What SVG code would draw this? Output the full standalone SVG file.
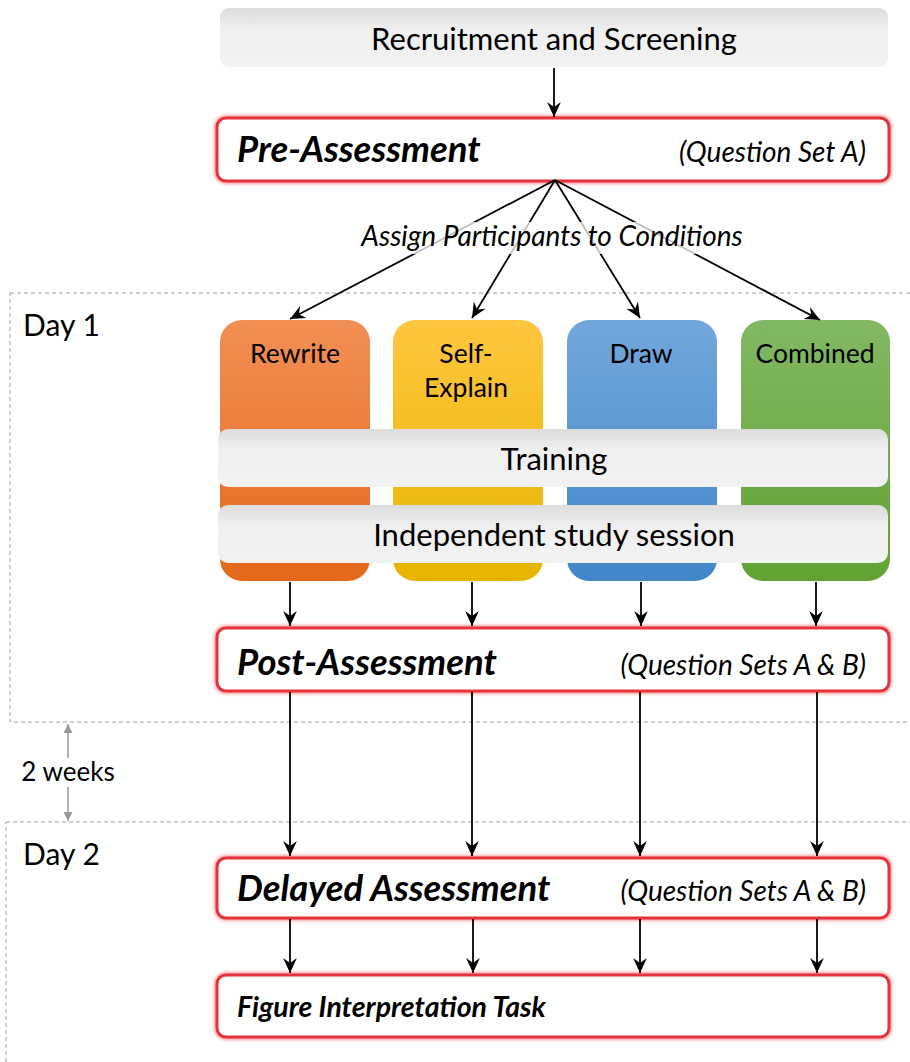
<svg xmlns="http://www.w3.org/2000/svg" width="910" height="1062" viewBox="0 0 910 1062">
<defs>
<linearGradient id="gGray" x1="0" y1="0" x2="0" y2="1"><stop offset="0" stop-color="#dcdcdc"/><stop offset="0.35" stop-color="#efefef"/><stop offset="1" stop-color="#f2f2f2"/></linearGradient>
<linearGradient id="gOrange" x1="0" y1="0" x2="0" y2="1"><stop offset="0" stop-color="#f28f55"/><stop offset="1" stop-color="#e3681a"/></linearGradient>
<linearGradient id="gYellow" x1="0" y1="0" x2="0" y2="1"><stop offset="0" stop-color="#ffc63f"/><stop offset="1" stop-color="#e6b400"/></linearGradient>
<linearGradient id="gBlue" x1="0" y1="0" x2="0" y2="1"><stop offset="0" stop-color="#72a7dc"/><stop offset="1" stop-color="#4186c8"/></linearGradient>
<linearGradient id="gGreen" x1="0" y1="0" x2="0" y2="1"><stop offset="0" stop-color="#82b863"/><stop offset="1" stop-color="#62a232"/></linearGradient>
<filter id="glow" x="-5%" y="-30%" width="110%" height="160%"><feGaussianBlur stdDeviation="1.5"/></filter>
<marker id="ah" viewBox="0 0 12 12" refX="12" refY="6" markerWidth="15" markerHeight="15" markerUnits="userSpaceOnUse" orient="auto"><path d="M0,0.5 L12,6 L0,11.5 L4,6 z" fill="#000"/></marker>
<marker id="ahg" viewBox="0 0 10 10" refX="10" refY="5" markerWidth="9" markerHeight="9" markerUnits="userSpaceOnUse" orient="auto"><path d="M0,0 L10,5 L0,10 z" fill="#999"/></marker>
</defs>
<style>
text{font-family:Lato,"Open Sans","Liberation Sans",sans-serif;fill:#000}
.bar{fill:url(#gGray)}
.red{fill:#fff;stroke:#e5333b;stroke-width:3}
.redglow{fill:none;stroke:#f06060;stroke-width:6;opacity:0.6}
.dash{fill:none;stroke:#a0a0a0;stroke-width:1;stroke-dasharray:4 3}
.lbl{font-size:31px;text-anchor:middle}
.cond{font-size:26.5px;text-anchor:middle}
.big{font-size:36.5px;font-weight:bold;font-style:italic}
.qs{font-size:28px;font-style:italic;text-anchor:end}
.day{font-size:30px}
.conn{stroke:#000;stroke-width:1.8;fill:none;marker-end:url(#ah)}
</style>

<g id="day-frames">
<rect class="dash" x="10" y="293" width="920" height="429"/>
<rect class="dash" x="6" y="822" width="924" height="260"/>
<text x="23" y="336" class="day">Day 1</text>
<text x="23" y="865" class="day">Day 2</text>
</g>

<g id="two-weeks">
<line x1="68" y1="758" x2="68" y2="724" stroke="#999" stroke-width="1.5" marker-end="url(#ahg)"/>
<line x1="68" y1="787" x2="68" y2="821" stroke="#999" stroke-width="1.5" marker-end="url(#ahg)"/>
<text x="68" y="781" style="font-size:26px;text-anchor:middle">2 weeks</text>
</g>

<g id="recruitment">
<rect class="bar" x="220" y="8" width="668" height="59" rx="9"/>
<text x="554" y="50" class="lbl">Recruitment and Screening</text>
</g>

<g id="pre-assessment">
<rect class="redglow" x="217" y="118" width="672" height="63" rx="9" filter="url(#glow)"/>
<rect class="red" x="217" y="118" width="672" height="63" rx="9"/>
<text x="237" y="162" class="big">Pre-Assessment</text>
<text x="866" y="162" class="qs">(Question Set A)</text>
</g>

<g id="rewrite">
<rect x="220" y="320" width="150" height="261" rx="22" fill="url(#gOrange)"/>
<text x="295" y="363" class="cond">Rewrite</text>
</g>
<g id="self-explain">
<rect x="393" y="320" width="150" height="261" rx="22" fill="url(#gYellow)"/>
<text x="466" y="363" class="cond">Self-</text>
<text x="466" y="397" class="cond">Explain</text>
</g>
<g id="draw">
<rect x="567" y="320" width="150" height="261" rx="22" fill="url(#gBlue)"/>
<text x="641" y="363" class="cond">Draw</text>
</g>
<g id="combined">
<rect x="741" y="320" width="149" height="261" rx="22" fill="url(#gGreen)"/>
<text x="815" y="363" class="cond">Combined</text>
</g>

<g id="training">
<rect class="bar" x="218" y="429" width="670" height="58" rx="10"/>
<text x="554" y="470" class="lbl">Training</text>
</g>
<g id="study-session">
<rect class="bar" x="218" y="505" width="670" height="58" rx="10"/>
<text x="554" y="546" class="lbl">Independent study session</text>
</g>

<g id="post-assessment">
<rect class="redglow" x="217" y="628" width="672" height="63" rx="9" filter="url(#glow)"/>
<rect class="red" x="217" y="628" width="672" height="63" rx="9"/>
<text x="237" y="675" class="big">Post-Assessment</text>
<text x="866" y="675" class="qs">(Question Sets A &amp; B)</text>
</g>

<g id="delayed-assessment">
<rect class="redglow" x="217" y="858" width="672" height="60" rx="9" filter="url(#glow)"/>
<rect class="red" x="217" y="858" width="672" height="60" rx="9"/>
<text x="237" y="901" class="big">Delayed Assessment</text>
<text x="866" y="901" class="qs">(Question Sets A &amp; B)</text>
</g>

<g id="figure-task">
<rect class="redglow" x="217" y="975" width="672" height="62" rx="9" filter="url(#glow)"/>
<rect class="red" x="217" y="975" width="672" height="62" rx="9"/>
<text x="237" y="1017" style="font-size:28.5px;font-weight:bold;font-style:italic">Figure Interpretation Task</text>
</g>

<g id="connectors">
<line class="conn" x1="554" y1="68" x2="554" y2="117"/>
<line class="conn" x1="555" y1="180" x2="290" y2="319"/>
<line class="conn" x1="555" y1="180" x2="472" y2="318"/>
<line class="conn" x1="555" y1="180" x2="640" y2="318"/>
<line class="conn" x1="555" y1="180" x2="820" y2="320"/>
<line class="conn" x1="290" y1="582" x2="290" y2="626"/>
<line class="conn" x1="472" y1="582" x2="472" y2="626"/>
<line class="conn" x1="641" y1="582" x2="641" y2="626"/>
<line class="conn" x1="816" y1="582" x2="816" y2="626"/>
<line class="conn" x1="290" y1="692" x2="290" y2="856"/>
<line class="conn" x1="472" y1="692" x2="472" y2="856"/>
<line class="conn" x1="640" y1="692" x2="640" y2="856"/>
<line class="conn" x1="817" y1="692" x2="817" y2="856"/>
<line class="conn" x1="290" y1="919" x2="290" y2="973"/>
<line class="conn" x1="473" y1="919" x2="473" y2="973"/>
<line class="conn" x1="640" y1="919" x2="640" y2="973"/>
<line class="conn" x1="817" y1="919" x2="817" y2="973"/>
</g>
<g id="assign-label">
<rect x="354" y="222" width="396" height="32" fill="#fff" opacity="0.75"/>
<text x="552" y="246" style="font-size:28px;font-style:italic;text-anchor:middle">Assign Participants to Conditions</text>
</g>
</svg>
